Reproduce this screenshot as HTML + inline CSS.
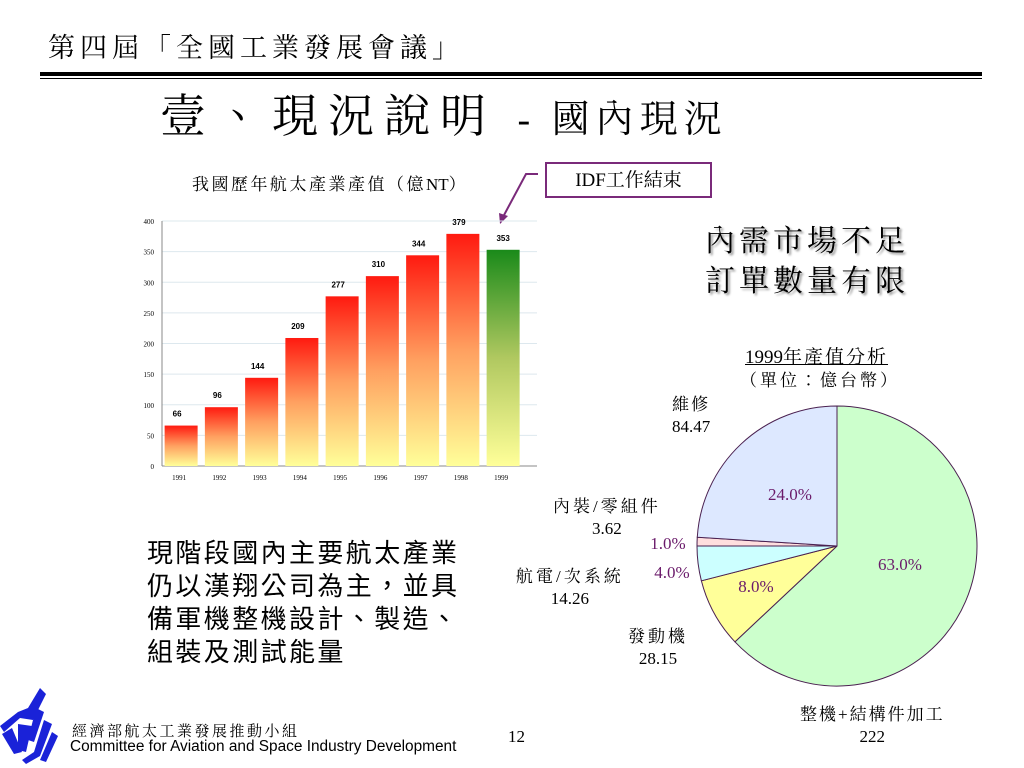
<!DOCTYPE html>
<html><head><meta charset="utf-8"><style>
body{margin:0;width:1024px;height:768px;background:#fff;overflow:hidden;position:relative;font-family:"Liberation Serif","Noto Serif CJK TC","Noto Serif CJK SC",serif}
.t{position:absolute;white-space:nowrap;color:#000}
.n{letter-spacing:0}
</style></head><body>
<div class="t" style="left:48px;top:26px;font-size:27px;letter-spacing:5px">第四屆「全國工業發展會議」</div>
<div style="position:absolute;left:40px;top:72px;width:942px;height:4px;background:#000"></div>
<div style="position:absolute;left:40px;top:78px;width:942px;height:1px;background:#000"></div>
<div class="t" style="left:160px;top:80px;font-size:46px;letter-spacing:10px">壹、現況說明 <span style="font-size:38px;letter-spacing:6px">- 國內現況</span></div>
<div class="t" style="left:192px;top:170px;font-size:17px;letter-spacing:2.5px">我國歷年航太產業產值（億<span class="n">NT</span>）</div>
<div class="t" style="left:545px;top:162px;width:167px;height:36px;border:2px solid #7a2a7a;box-sizing:border-box;font-size:19px;text-align:center;line-height:33px">IDF工作結束</div>
<div class="t" style="left:705px;top:222px;font-size:30px;line-height:40px;letter-spacing:4px;text-shadow:2px 2px 2px #999">內需市場不足<br>訂單數量有限</div>
<div class="t" style="left:147px;top:537px;font-family:'Liberation Sans','Noto Sans CJK TC',sans-serif;font-size:26px;line-height:33px;letter-spacing:2.4px">現階段國內主要航太產業<br>仍以漢翔公司為主，並具<br>備軍機整機設計、製造、<br>組裝及測試能量</div>
<div class="t" style="left:745px;top:342px;font-size:19px;letter-spacing:2px;text-decoration:underline"><span class="n">1999</span>年產值分析</div>
<div class="t" style="left:740px;top:366px;font-size:17px;letter-spacing:3px">（單位：億台幣）</div>
<div class="t" style="left:672px;top:394px;font-size:17px;text-align:center;line-height:22px;letter-spacing:2px">維修<br><span class="n">84.47</span></div>
<div class="t" style="left:553px;top:496px;font-size:17px;text-align:center;line-height:22px;letter-spacing:3px">內裝/零組件<br><span class="n">3.62</span></div>
<div class="t" style="left:516px;top:566px;font-size:17px;text-align:center;line-height:22px;letter-spacing:3px">航電/次系統<br><span class="n">14.26</span></div>
<div class="t" style="left:628px;top:626px;font-size:17px;text-align:center;line-height:22px;letter-spacing:3px">發動機<br><span class="n">28.15</span></div>
<div class="t" style="left:800px;top:704px;font-size:17px;text-align:center;line-height:22px;letter-spacing:2px">整機+結構件加工<br><span class="n">222</span></div>
<svg style="position:absolute;left:0;top:680px" width="60" height="88" viewBox="0 0 60 88">
<g fill="#1a22d8"><path d="M40 8 L46 14 L33 40 L20 38 L4 52 L0 46 L18 32 L28 28 Z"/><path d="M2 54 L12 48 L22 72 L14 74Z"/><path d="M18 44 L32 46 L26 72 L18 70Z"/><path d="M36 28 L44 32 L34 62 L28 60Z"/><path d="M44 40 L52 44 L40 76 L26 84 L22 80 L34 72Z"/><path d="M52 52 L58 56 L46 82 L40 80Z"/></g></svg>
<div class="t" style="left:72px;top:720px;font-size:15px;letter-spacing:2.5px">經濟部航太工業發展推動小組</div>
<div class="t" style="left:70px;top:738px;font-family:'Liberation Sans',sans-serif;font-size:15.4px">Committee for Aviation and Space Industry Development</div>
<div class="t" style="left:508px;top:727px;font-size:17px">12</div>
<svg id="chart" width="1024" height="768" style="position:absolute;left:0;top:0">
<defs>
<linearGradient id="gr" x1="0" y1="0" x2="0" y2="1"><stop offset="0" stop-color="#ff1a10"/><stop offset="0.5" stop-color="#ffa060"/><stop offset="1" stop-color="#ffff99"/></linearGradient>
<linearGradient id="gg" x1="0" y1="0" x2="0" y2="1"><stop offset="0" stop-color="#1a8a1a"/><stop offset="0.5" stop-color="#b0c860"/><stop offset="1" stop-color="#ffff99"/></linearGradient>
</defs>
<polyline points="538,174 526,174 503,217" fill="none" stroke="#7a2a7a" stroke-width="2"/>
<polygon points="499,213 508,216 500,224" fill="#7a2a7a"/>
</svg>
<script>
const years=["1991","1992","1993","1994","1995","1996","1997","1998","1999"];
const values=[66,96,144,209,277,310,344,379,353];
const yTicks=[0,50,100,150,200,250,300,350,400];
const pieNames=["airframe","engine","avionics","interior","maintenance"];
const pieShares=[63,8,4,1,24];
const pieColors=["#ccffcc","#ffff99","#ccffff","#ffdede","#dde8ff"];
const pieLabels=["63.0%","8.0%","4.0%","1.0%","24.0%"];
const NS="http://www.w3.org/2000/svg",svg=document.getElementById('chart');
function mk(t,a,p){const e=document.createElementNS(NS,t);for(const k in a)e.setAttribute(k,a[k]);(p||svg).appendChild(e);return e;}
const x0=162,x1=537,yb=466,yt=221;
const y=v=>yb-(v/400)*(yb-yt);
const step=40.25;
const xc=i=>161+step*(i+0.5);
yTicks.forEach(t=>{
  const l=mk('line',{x1:x0,x2:x1,y1:y(t),y2:y(t),stroke:t?'#dde8ee':'#888','stroke-width':1});
  
  
  const tx=mk('text',{x:x0-8,y:y(t)+3,'font-size':7,'text-anchor':'end','font-family':'Liberation Serif'});
  tx.textContent=t;
  
  
});
mk('line',{x1:x0,x2:x0,y1:yt,y2:yb,stroke:'#888'});
values.forEach((v,i)=>{
  const bw=33;
  const r=mk('rect',{x:xc(i)-bw/2,y:y(v),width:bw,height:yb-y(v),fill:i==values.length-1?'url(#gg)':'url(#gr)'});
  
  
  const lb=mk('text',{x:xc(i)-(i<8?4:0),y:y(v)-9,'font-size':8,'font-weight':'bold','text-anchor':'middle','font-family':'Liberation Sans'});
  lb.textContent=v;
  
  
  const xl=mk('text',{x:xc(i)-2,y:yb+14,'font-size':7,'text-anchor':'middle','font-family':'Liberation Serif'});
  xl.textContent=years[i];
  
  
});
const cx=837,cy=546,R=140;
const tot=pieShares.reduce((a,b)=>a+b,0);
let a0=-Math.PI/2;
const lblPos=[[900,570],[756,592],[672,578],[668,549],[790,500]];
pieShares.forEach((s,i)=>{
  const a1=a0+s/tot*2*Math.PI;
  const big=(a1-a0)>Math.PI?1:0;
  const d=`M${cx},${cy} L${cx+R*Math.cos(a0)},${cy+R*Math.sin(a0)} A${R},${R} 0 ${big} 1 ${cx+R*Math.cos(a1)},${cy+R*Math.sin(a1)} Z`;
  const p=mk('path',{d:d,fill:pieColors[i],stroke:'#4a2050','stroke-width':1});
  
  
  const t=mk('text',{x:lblPos[i][0],y:lblPos[i][1],'font-size':17,'text-anchor':'middle',fill:'#6a1a6a','font-family':'Liberation Serif'});
  t.textContent=pieLabels[i];
  
  
  a0=a1;
});
</script>
</body></html>
